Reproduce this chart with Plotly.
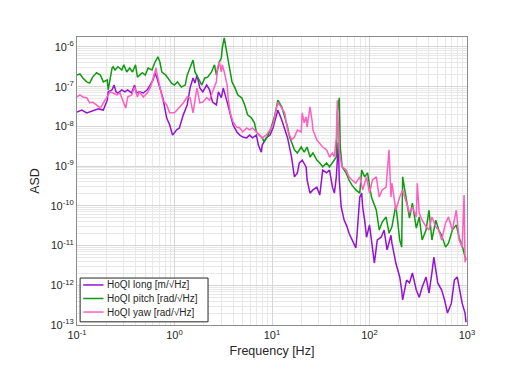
import numpy as np
import plotly.graph_objects as go

# spectra, stored as log10(frequency / Hz) and log10(ASD)
long_logf = [-1.00, -0.95, -0.90, -0.84, -0.78, -0.73, -0.69, -0.68, -0.64, -0.62, -0.60, -0.58,
             -0.54, -0.51, -0.48, -0.44, -0.41, -0.39, -0.36, -0.32, -0.28, -0.25, -0.22, -0.20,
             -0.18, -0.15, -0.12, -0.08, -0.05, -0.02, 0.02, 0.05, 0.09, 0.13, 0.16, 0.19, 0.21,
             0.23, 0.26, 0.29, 0.33, 0.36, 0.39, 0.43, 0.45, 0.48, 0.50, 0.54, 0.57, 0.60, 0.64,
             0.67, 0.70, 0.74, 0.77, 0.80, 0.84, 0.86, 0.89, 0.90, 0.94, 0.98, 1.01, 1.05, 1.06,
             1.10, 1.13, 1.16, 1.20, 1.23, 1.26, 1.28, 1.31, 1.35, 1.36, 1.39, 1.42, 1.46, 1.49,
             1.51, 1.52, 1.56, 1.59, 1.62, 1.64, 1.66, 1.68, 1.69, 1.71, 1.74, 1.77, 1.79, 1.82,
             1.86, 1.87, 1.90, 1.92, 1.93, 1.95, 1.97, 2.00, 2.03, 2.05, 2.08, 2.12, 2.15, 2.18,
             2.22, 2.23, 2.27, 2.31, 2.33, 2.34, 2.38, 2.41, 2.44, 2.48, 2.51, 2.54, 2.58, 2.61,
             2.64, 2.66, 2.70, 2.74, 2.77, 2.80, 2.84, 2.87, 2.90, 2.92, 2.95, 2.98, 2.99]
long_logasd = [-7.64, -7.59, -7.66, -7.61, -7.56, -7.59, -7.34, -7.13, -7.08, -6.96, -7.13, -7.16,
               -7.08, -7.13, -7.08, -7.16, -6.96, -7.16, -7.13, -7.16, -7.08, -6.96, -6.83, -6.65,
               -6.78, -7.03, -7.28, -7.79, -7.96, -8.22, -8.09, -8.04, -7.71, -7.46, -7.03, -6.78,
               -6.91, -6.71, -7.03, -7.13, -6.96, -7.08, -7.39, -7.46, -7.13, -7.28, -7.03, -7.39,
               -7.71, -7.96, -8.14, -8.22, -8.27, -8.29, -8.22, -8.29, -8.22, -8.47, -8.65, -8.47,
               -8.29, -8.22, -8.04, -7.66, -7.59, -7.84, -8.09, -8.29, -8.77, -9.27, -9.17, -8.92,
               -8.85, -9.02, -9.35, -9.68, -9.60, -9.53, -9.73, -9.35, -9.10, -9.17, -9.10, -9.53,
               -9.68, -9.27, -8.40, -9.35, -10.03, -10.36, -10.53, -10.69, -10.86, -11.06, -10.79,
               -9.78, -9.68, -10.03, -10.36, -10.79, -10.48, -11.11, -11.44, -10.86, -10.79, -10.61,
               -11.11, -10.74, -10.94, -11.44, -11.79, -12.12, -12.37, -11.87, -11.94, -11.69,
               -12.12, -12.30, -12.05, -11.79, -12.20, -11.69, -11.29, -11.94, -12.12, -12.37,
               -12.70, -12.45, -11.87, -11.79, -12.05, -12.45, -12.70, -12.93]

pitch_logf = [-1.00, -0.97, -0.94, -0.90, -0.87, -0.84, -0.80, -0.76, -0.73, -0.69, -0.68, -0.66,
              -0.64, -0.63, -0.61, -0.58, -0.54, -0.52, -0.49, -0.46, -0.43, -0.40, -0.38, -0.33,
              -0.30, -0.27, -0.23, -0.20, -0.17, -0.15, -0.13, -0.09, -0.07, -0.03, 0.00, 0.03,
              0.07, 0.11, 0.13, 0.16, 0.19, 0.21, 0.24, 0.28, 0.31, 0.34, 0.38, 0.41, 0.43, 0.46,
              0.48, 0.49, 0.51, 0.54, 0.55, 0.57, 0.59, 0.62, 0.65, 0.69, 0.72, 0.75, 0.79, 0.82,
              0.84, 0.87, 0.90, 0.92, 0.95, 0.99, 1.03, 1.06, 1.10, 1.13, 1.16, 1.18, 1.20, 1.23,
              1.26, 1.30, 1.33, 1.36, 1.39, 1.42, 1.46, 1.49, 1.52, 1.56, 1.59, 1.62, 1.66, 1.67,
              1.69, 1.70, 1.72, 1.76, 1.79, 1.82, 1.86, 1.90, 1.92, 1.95, 1.98, 2.02, 2.07, 2.10,
              2.13, 2.17, 2.20, 2.23, 2.27, 2.31, 2.33, 2.34, 2.38, 2.41, 2.44, 2.48, 2.51, 2.54,
              2.58, 2.61, 2.64, 2.68, 2.71, 2.74, 2.78, 2.81, 2.85, 2.89, 2.92, 2.95, 2.98, 2.99]
pitch_logasd = [-6.71, -6.68, -6.78, -6.88, -6.91, -6.76, -6.65, -6.71, -6.88, -6.83, -7.08, -6.78,
                -6.53, -6.50, -6.58, -6.50, -6.58, -6.45, -6.63, -6.53, -6.63, -6.45, -6.76, -6.65,
                -6.71, -6.53, -6.58, -6.38, -6.25, -6.38, -6.63, -6.71, -6.78, -6.91, -6.96, -6.88,
                -7.01, -6.96, -6.71, -6.53, -6.33, -6.63, -6.78, -6.96, -6.78, -6.76, -6.63, -6.45,
                -6.71, -6.38, -6.28, -6.03, -5.77, -6.20, -6.33, -6.53, -6.88, -7.03, -7.21, -7.28,
                -7.46, -7.71, -7.79, -7.91, -8.14, -8.22, -8.29, -8.39, -8.27, -8.04, -7.71, -7.34,
                -7.51, -7.76, -8.02, -8.27, -8.42, -8.59, -8.67, -8.52, -8.65, -8.52, -8.77, -8.67,
                -8.85, -8.92, -9.02, -8.92, -9.02, -8.92, -8.77, -7.66, -7.28, -8.52, -9.02, -9.17,
                -9.35, -9.48, -9.60, -9.68, -9.10, -9.27, -9.17, -9.78, -10.11, -10.61, -10.41,
                -10.28, -10.69, -10.53, -9.98, -10.86, -11.04, -9.27, -9.93, -10.31, -9.93, -10.56,
                -10.28, -10.86, -10.61, -10.11, -10.86, -10.36, -10.61, -10.74, -11.04, -10.94,
                -10.61, -10.48, -10.81, -10.99, -11.29, -11.37]

yaw_logf = [-1.00, -0.97, -0.94, -0.90, -0.87, -0.84, -0.80, -0.76, -0.73, -0.69, -0.66, -0.63,
            -0.59, -0.56, -0.53, -0.50, -0.48, -0.44, -0.41, -0.38, -0.36, -0.32, -0.28, -0.25,
            -0.23, -0.21, -0.19, -0.17, -0.15, -0.12, -0.08, -0.05, 0.00, 0.05, 0.09, 0.13, 0.16,
            0.19, 0.21, 0.23, 0.26, 0.29, 0.33, 0.36, 0.39, 0.43, 0.44, 0.46, 0.48, 0.49, 0.51,
            0.54, 0.55, 0.57, 0.60, 0.64, 0.67, 0.70, 0.74, 0.77, 0.80, 0.84, 0.87, 0.90, 0.94,
            0.98, 1.01, 1.05, 1.06, 1.10, 1.13, 1.16, 1.20, 1.23, 1.26, 1.30, 1.31, 1.33, 1.35,
            1.36, 1.39, 1.41, 1.42, 1.46, 1.49, 1.52, 1.56, 1.59, 1.62, 1.64, 1.66, 1.67, 1.69,
            1.72, 1.76, 1.79, 1.82, 1.86, 1.90, 1.93, 1.97, 2.00, 2.03, 2.07, 2.10, 2.13, 2.17,
            2.20, 2.22, 2.23, 2.27, 2.31, 2.34, 2.38, 2.41, 2.44, 2.48, 2.49, 2.51, 2.54, 2.58,
            2.61, 2.64, 2.68, 2.71, 2.74, 2.78, 2.81, 2.85, 2.89, 2.92, 2.95, 2.97, 2.98, 2.99]
yaw_logasd = [-7.26, -7.21, -7.26, -7.28, -7.41, -7.39, -7.46, -7.54, -7.41, -7.26, -7.13, -7.16,
              -7.21, -7.16, -7.34, -7.54, -7.26, -7.21, -7.01, -7.26, -7.13, -7.26, -7.16, -7.03,
              -6.88, -6.71, -6.53, -6.78, -7.01, -7.34, -7.46, -7.66, -7.66, -7.51, -7.41, -7.26,
              -7.28, -7.66, -7.39, -7.03, -7.41, -7.39, -7.28, -7.34, -7.13, -6.88, -6.53, -6.38,
              -6.63, -6.45, -6.63, -6.96, -7.28, -7.64, -7.89, -8.02, -8.04, -8.14, -8.04, -8.09,
              -8.04, -8.14, -8.22, -8.29, -8.22, -8.09, -7.96, -7.46, -7.39, -7.54, -7.66, -8.09,
              -8.34, -8.27, -8.09, -8.14, -7.66, -7.91, -7.76, -8.02, -7.51, -7.84, -8.09, -8.34,
              -8.42, -8.52, -8.59, -8.77, -8.67, -8.77, -8.27, -7.34, -8.67, -9.02, -9.10, -9.27,
              -9.35, -9.43, -9.27, -9.60, -9.27, -9.68, -9.35, -9.27, -9.78, -9.60, -9.53, -8.59,
              -9.78, -9.43, -10.11, -9.78, -9.60, -9.93, -10.18, -10.03, -10.28, -9.43, -10.18,
              -10.36, -10.53, -10.61, -10.28, -10.53, -10.61, -10.86, -10.43, -10.28, -10.61,
              -10.11, -10.86, -11.04, -9.73, -11.42, -11.29]

series_names = ["HoQI long [m/√Hz]", "HoQI pitch [rad/√Hz]", "HoQI yaw [rad/√Hz]"]
series_colors = ["#9412d2", "#0f9a0f", "#ff5fc0"]

x_decades = [-1, 0, 1, 2, 3]
y_decades = [-13, -12, -11, -10, -9, -8, -7, -6]


def minor_vals(decades):
    return [m * 10.0 ** d for d in decades for m in range(2, 10)]


fig = go.Figure()
for logf, loga, name, color in [(long_logf, long_logasd, series_names[0], series_colors[0]),
                                (pitch_logf, pitch_logasd, series_names[1], series_colors[1]),
                                (yaw_logf, yaw_logasd, series_names[2], series_colors[2])]:
    fig.add_trace(go.Scatter(x=10 ** np.array(logf), y=10 ** np.array(loga), mode="lines",
                             name=name, line=dict(color=color, width=1.5), showlegend=False))

# compact legend box drawn by hand in the lower-left corner (MATLAB style)
fig.add_shape(type="rect", xref="paper", yref="paper", x0=0.008, x1=0.336, y0=0.011, y1=0.163,
              line=dict(color="#262626", width=1), fillcolor="white", layer="above")
row_y = [0.139, 0.092, 0.045]
for name, color, yy in zip(series_names, series_colors, row_y):
    fig.add_shape(type="line", xref="paper", yref="paper", x0=0.016, x1=0.068, y0=yy, y1=yy,
                  line=dict(color=color, width=1.5), layer="above")
    fig.add_annotation(xref="paper", yref="paper", x=0.071, y=yy, text=name, showarrow=False,
                       xanchor="left", yanchor="middle", font=dict(size=10, color="#262626"))

font = "Liberation Sans, Arial, sans-serif"
# the page body adds an 8px offset, so margins are shifted to keep the plot box in place
fig.update_layout(
    width=527, height=372,
    margin=dict(l=69, r=68, t=29, b=55),
    paper_bgcolor="white", plot_bgcolor="white",
    font=dict(family=font, size=11, color="#262626"),
    showlegend=False,
)
fig.update_xaxes(
    type="log", range=[-1, 3],
    tickmode="array", tickvals=[10.0 ** d for d in x_decades],
    ticktext=["10<sup>%d</sup>" % d for d in x_decades],
    showgrid=True, gridcolor="#d6d6d6", gridwidth=1,
    minor=dict(tickmode="array", tickvals=minor_vals(x_decades[:-1]),
               showgrid=True, gridcolor="#e8e8e8", gridwidth=1),
    showline=True, linecolor="#8c8c8c", linewidth=1, mirror=True,
    ticks="", zeroline=False,
    title=dict(text="Frequency [Hz]", font=dict(size=12.5), standoff=6),
)
fig.update_yaxes(
    type="log", range=[-13, -5.75],
    tickmode="array", tickvals=[10.0 ** d for d in y_decades],
    ticktext=["10<sup>%d</sup>" % d for d in y_decades],
    showgrid=True, gridcolor="#d6d6d6", gridwidth=1,
    minor=dict(tickmode="array", tickvals=minor_vals(y_decades),
               showgrid=True, gridcolor="#e8e8e8", gridwidth=1),
    showline=True, linecolor="#8c8c8c", linewidth=1, mirror=True,
    ticks="", zeroline=False,
    title=dict(text="ASD", font=dict(size=12.5), standoff=8),
)

fig.write_html("out.html")
